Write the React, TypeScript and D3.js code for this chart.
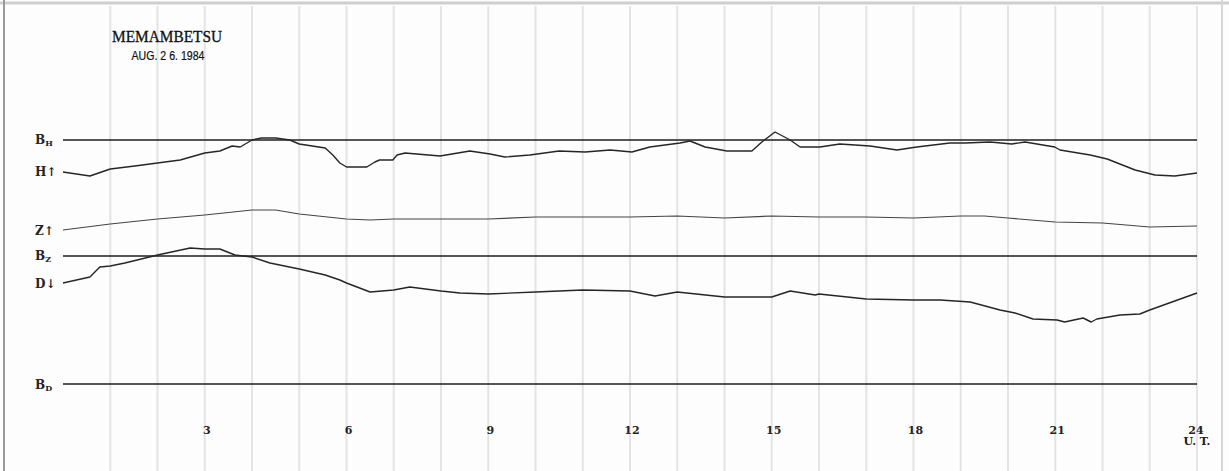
import React from "react";
import * as d3 from "d3";

// Hours (U.T.) and trace heights (px-like chart units above the B_D baseline)
const hTimes = [0, 0.57, 1, 1.52, 2, 2.48, 3, 3.32, 3.58, 3.75, 4, 4.2, 4.5, 4.8, 5, 5.55, 5.71, 5.86, 6, 6.43, 6.6, 6.7, 6.98, 7.07, 7.24, 7.98, 8.61, 9.04, 9.35, 9.88, 10.5, 11.05, 11.58, 12.04, 12.42, 13.06, 13.27, 13.59, 14.05, 14.58, 14.79, 15.07, 15.39, 15.6, 16.02, 16.44, 17.08, 17.65, 18.07, 18.77, 19.09, 19.62, 20.08, 20.36, 20.99, 21.1, 21.74, 22.1, 22.69, 23.11, 23.53, 24];
const hValues = [212, 208, 215, 218, 221, 224, 231, 233, 238, 237, 244, 246, 246, 244, 240, 236, 229, 221, 217, 217, 222, 224, 224, 229, 231, 228, 233, 230, 227, 229, 233, 232, 234, 232, 237, 241, 243, 237, 233, 233, 242, 252, 244, 237, 237, 240, 238, 234, 237, 241, 241, 242, 240, 242, 237, 234, 229, 225, 214, 209, 208, 211];

const zTimes = [0, 1, 2, 3, 4, 4.5, 5, 6, 6.5, 7, 8, 9, 10, 11, 12, 13, 14, 15, 16, 17, 18, 19, 19.5, 20, 21, 22, 23, 24];
const zValues = [154, 160, 165, 169, 174, 174, 170, 165, 164, 165, 165, 165, 167, 167, 167, 168, 166, 168, 167, 167, 166, 168, 168, 166, 162, 161, 157, 158];

const dTimes = [0, 0.57, 0.78, 1, 1.31, 2, 2.69, 3, 3.32, 3.64, 4, 4.38, 5, 5.55, 5.86, 6, 6.5, 7, 7.34, 8, 8.4, 9, 10, 11, 12, 12.53, 13, 14, 14.5, 15, 15.39, 15.92, 16, 17, 18, 18.56, 19.2, 19.83, 20.15, 20.53, 21.04, 21.2, 21.59, 21.76, 21.88, 22.37, 22.79, 23, 24];
const dValues = [101, 107, 117, 118, 121, 129, 136, 135, 135, 129, 127, 121, 115, 109, 104, 101, 92, 94, 97, 93, 91, 90, 92, 94, 93, 88, 92, 87, 87, 87, 93, 89, 90, 85, 84, 84, 82, 74, 71, 65, 64, 62, 66, 62, 65, 69, 70, 74, 91];

const baseNames = ["H", "Z", "D"];
const baseValues = [244, 128, 0];

const hourTicks = [3, 6, 9, 12, 15, 18, 21, 24];
const gridHours = d3.range(1, 25);

const W = 1229;
const H = 471;

export default function App() {
  const x = d3.scaleLinear().domain([0, 24]).range([63, 1197]);
  const y = d3.scaleLinear().domain([0, 250]).range([384, 134]);
  const line = d3
    .line<[number, number]>()
    .x((d) => x(d[0]))
    .y((d) => y(d[1]))
    .curve(d3.curveLinear);

  const series = [
    { t: hTimes, v: hValues, w: 1.4, c: "#262626" },
    { t: zTimes, v: zValues, w: 1.1, c: "#444" },
    { t: dTimes, v: dValues, w: 1.4, c: "#262626" },
  ];

  const labelFont = "'DejaVu Serif', 'Liberation Serif', serif";

  return (
    <svg
      width={W}
      height={H}
      style={{ position: "absolute", left: 0, top: 0, background: "#fff" }}
    >
      <rect x={0} y={0} width={W} height={H} fill="#fdfdfd" />
      {/* frame */}
      <line x1={0} x2={W} y1={3} y2={3} stroke="#cfcfcf" strokeWidth={3} />
      <line x1={4} x2={4} y1={0} y2={H} stroke="#9a9a9a" strokeWidth={2} />
      <line x1={1222} x2={1222} y1={0} y2={H} stroke="#d8d8d8" strokeWidth={2} />
      {/* hourly grid */}
      {gridHours.map((hh) => (
        <line
          key={hh}
          x1={x(hh)}
          x2={x(hh)}
          y1={6}
          y2={H}
          stroke="#e4e4e4"
          strokeWidth={2}
        />
      ))}
      {/* baselines */}
      {baseValues.map((b, i) => (
        <line
          key={baseNames[i]}
          x1={x(0)}
          x2={x(24)}
          y1={y(b)}
          y2={y(b)}
          stroke="#1e1e1e"
          strokeWidth={1.5}
        />
      ))}
      {/* traces */}
      {series.map((s, i) => (
        <path
          key={i}
          d={line(s.t.map((t, j) => [t, s.v[j]] as [number, number])) || ""}
          fill="none"
          stroke={s.c}
          strokeWidth={s.w}
          strokeLinejoin="round"
        />
      ))}
      {/* left labels */}
      <g fontFamily={labelFont} fontWeight="bold" fontSize={12} fill="#222">
        <text x={35} y={y(244) + 4}>
          B<tspan fontSize={8} dy={2}>H</tspan>
        </text>
        <text x={35} y={y(212) + 4}>H↑</text>
        <text x={35} y={y(154) + 5}>Z↑</text>
        <text x={35} y={y(128) + 4}>
          B<tspan fontSize={8} dy={2}>Z</tspan>
        </text>
        <text x={35} y={y(101) + 5}>D↓</text>
        <text x={35} y={y(0) + 5}>
          B<tspan fontSize={8} dy={2}>D</tspan>
        </text>
      </g>
      {/* hour ticks */}
      <g fontFamily={labelFont} fontWeight="bold" fontSize={11} fill="#222" textAnchor="middle">
        {hourTicks.map((t) => (
          <text key={t} x={x(t) + (t === 24 ? -1 : 2)} y={434}>
            {t}
          </text>
        ))}
        <text x={x(24)} y={445}>U. T.</text>
      </g>
      {/* title */}
      <text
        x={167}
        y={42}
        textAnchor="middle"
        fontFamily="'Liberation Serif', serif"
        fontSize={16}
        fill="#111"
        stroke="#111"
        strokeWidth={0.3}
        textLength={110}
        lengthAdjust="spacingAndGlyphs"
      >
        MEMAMBETSU
      </text>
      <text
        x={168}
        y={60}
        textAnchor="middle"
        fontFamily="'Liberation Sans Narrow', 'Liberation Sans', sans-serif"
        fontSize={12}
        fill="#111"
        stroke="#111"
        strokeWidth={0.2}
        textLength={73}
        lengthAdjust="spacingAndGlyphs"
      >
        AUG. 2 6. 1984
      </text>
    </svg>
  );
}
